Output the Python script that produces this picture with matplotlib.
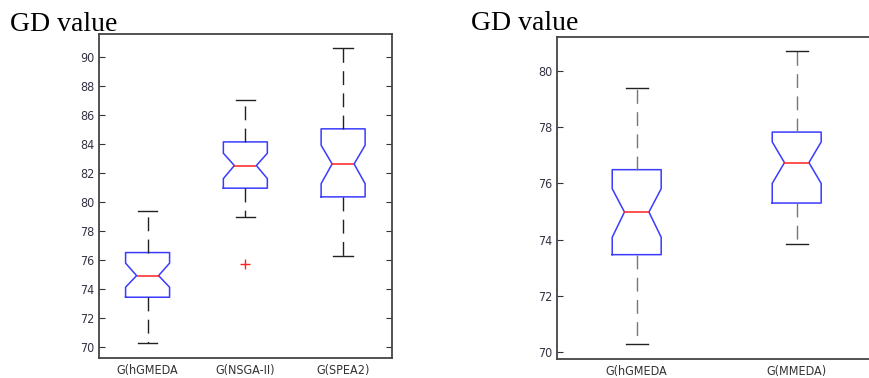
import matplotlib
matplotlib.use("Agg")
import matplotlib.pyplot as plt
from matplotlib import font_manager

# pick a condensed sans font if available
tick_font = None
for f in font_manager.fontManager.ttflist:
    if f.name == "Liberation Sans Narrow":
        tick_font = font_manager.FontProperties(fname=f.fname)
        break
if tick_font is None:
    for f in font_manager.fontManager.ttflist:
        if f.name == "DejaVu Sans" and str(f.stretch) in ("condensed", "semi-condensed") \
                and f.weight in (400, "normal") and f.style == "normal":
            tick_font = font_manager.FontProperties(fname=f.fname)
            break
if tick_font is None:
    tick_font = font_manager.FontProperties(family="Liberation Sans")

# Left panel data
left_labels = ["G(hGMEDA", "G(NSGA-II)", "G(SPEA2)"]
left_med = [74.94, 82.53, 82.64]
left_q1 = [73.45, 80.97, 80.37]
left_q3 = [76.53, 84.16, 85.06]
left_wlo = [70.28, 78.99, 76.30]
left_whi = [79.42, 87.03, 90.62]
left_cilo = [74.14, 81.63, 81.28]
left_cihi = [75.80, 83.38, 83.93]
left_fliers = [[], [75.75], []]
left_yticks = [70, 72, 74, 76, 78, 80, 82, 84, 86, 88, 90]

# Right panel data
right_labels = ["G(hGMEDA", "G(MMEDA)"]
right_med = [74.98, 76.74]
right_q1 = [73.46, 75.30]
right_q3 = [76.49, 77.83]
right_wlo = [70.28, 73.84]
right_whi = [79.41, 80.73]
right_cilo = [74.08, 76.00]
right_cihi = [75.81, 77.48]
right_fliers = [[], []]
right_yticks = [70, 72, 74, 76, 78, 80]

title_text = "GD value"


def make_stats(labels, med, q1, q3, wlo, whi, cilo, cihi, fliers):
    out = []
    for i in range(len(labels)):
        out.append(dict(label=labels[i], med=med[i], q1=q1[i], q3=q3[i],
                        whislo=wlo[i], whishi=whi[i], cilo=cilo[i],
                        cihi=cihi[i], fliers=fliers[i]))
    return out


fig = plt.figure(figsize=(8.69, 3.78), dpi=100)
W, H = 869, 378


def add_ax(x0, y0, x1, y1):
    return fig.add_axes([x0 / W, 1 - y1 / H, (x1 - x0) / W, (y1 - y0) / H])


def draw(ax, stats, widths, capw, wcolor, yticks, ylim, xlim):
    ax.bxp(stats, shownotches=True, widths=widths, capwidths=capw,
           boxprops=dict(color="#3b3bff", linewidth=1.1),
           medianprops=dict(color="#ff2020", linewidth=1.1),
           whiskerprops=dict(color=wcolor, linewidth=1.0, linestyle=(0, (10, 6))),
           capprops=dict(color="#222222", linewidth=1.0),
           flierprops=dict(marker="+", markeredgecolor="#ff2020",
                           markersize=7, linestyle="none", markeredgewidth=1.0))
    ax.set_ylim(*ylim)
    ax.set_xlim(*xlim)
    ax.set_yticks(yticks)
    ax.set_yticklabels([str(t) for t in yticks])
    ax.tick_params(axis="y", direction="in", length=4, width=0.8,
                   left=True, right=True, colors="#333344", pad=3)
    ax.tick_params(axis="x", length=0, colors="#333333", pad=4)
    for lab in ax.get_xticklabels() + ax.get_yticklabels():
        lab.set_fontproperties(tick_font)
        lab.set_fontsize(9)
    for s in ax.spines.values():
        s.set_color("#444444")
        s.set_linewidth(1.3)


ax1 = add_ax(98.7, 34, 392, 358)
draw(ax1, make_stats(left_labels, left_med, left_q1, left_q3, left_wlo, left_whi,
                     left_cilo, left_cihi, left_fliers),
     0.45, 0.2, "#222222", left_yticks, (69.26, 91.6), (0.5, 3.5))

ax2 = add_ax(556.7, 37, 876.7, 359)
draw(ax2, make_stats(right_labels, right_med, right_q1, right_q3, right_wlo,
                     right_whi, right_cilo, right_cihi, right_fliers),
     0.306, 0.1375, "#777777", right_yticks, (69.74, 81.22), (0.5, 2.5))

fig.text(10 / W, 1 - 31 / H, title_text, fontsize=20, family="Liberation Serif",
         ha="left", va="baseline")
fig.text(470.7 / W, 1 - 30 / H, title_text, fontsize=20, family="Liberation Serif",
         ha="left", va="baseline")

fig.savefig("out.png", dpi=100)
